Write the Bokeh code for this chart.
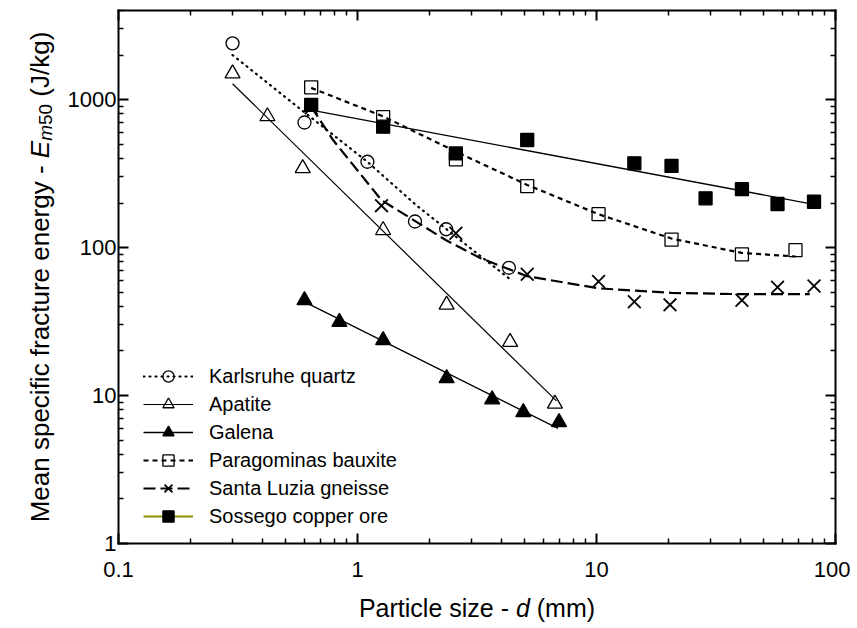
import math
from bokeh.plotting import figure
from bokeh.models import (Range1d, FixedTicker, CustomJSTickFormatter, LogAxis,
                          Legend, LegendItem, Label)
from bokeh.embed import file_html
from bokeh.resources import INLINE

FONT = "Liberation Sans"

# ---------------- data ----------------
kq_x = [0.3, 0.6, 1.1, 1.74, 2.35, 4.3]
kq_y = [2400, 700, 380, 150, 133, 73]
kq_fit_x = [0.3, 0.6, 1.1, 1.75, 2.4, 3.2, 4.3]
kq_fit_y = [2000, 820, 380, 195, 130, 90, 62]

ap_x = [0.3, 0.42, 0.59, 1.28, 2.36, 4.35, 6.7]
ap_y = [1500, 770, 343, 131, 41, 23, 8.8]
ap_fit_x = [0.3, 6.8]
ap_fit_y = [1280, 9.2]

ga_x = [0.6, 0.84, 1.28, 2.36, 3.66, 4.94, 6.97]
ga_y = [44, 31.4, 23.6, 13.1, 9.4, 7.7, 6.6]
ga_fit_x = [0.6, 6.9]
ga_fit_y = [43, 6.0]

pb_x = [0.64, 1.28, 2.58, 5.13, 10.2, 20.6, 40.6, 68]
pb_y = [1210, 760, 395, 260, 168, 113, 90, 96]
pb_fit_x = [0.64, 1.28, 2.58, 5.13, 10.2, 20.6, 40.6, 68]
pb_fit_y = [1200, 770, 445, 265, 168, 115, 92, 87]

sl_x = [0.64, 1.26, 2.58, 5.13, 10.2, 14.4, 20.3, 40.6, 57.2, 81.3]
sl_y = [880, 192, 125, 66, 59, 43, 41, 44, 54, 55]
sl_fit_x = [0.64, 0.79, 1.26, 2.35, 3.26, 5.13, 10.2, 20.6, 40.6, 78]
sl_fit_y = [896, 533, 209, 112, 85, 64, 53, 49.4, 48.4, 48.4]

ss_x = [0.64, 1.28, 2.58, 5.13, 14.4, 20.6, 28.6, 40.6, 57.2, 81.3]
ss_y = [920, 656, 433, 533, 371, 356, 215, 248, 197, 204]
ss_fit_x = [0.64, 81]
ss_fit_y = [850, 196]

series_names = ["Karlsruhe quartz", "Apatite", "Galena", "Paragominas bauxite",
                "Santa Luzia gneisse", "Sossego copper ore"]

x_major = [0.1, 1, 10, 100]
y_major = [1, 10, 100, 1000]
X_LO, X_HI = 0.1, 100
Y_LO, Y_HI = 1, 4000

# ---------------- layout (pixels) ----------------
W, H = 850, 625
BOX_L, BOX_R, BOX_T, BOX_B = 118, 835, 10, 543   # axes box inside the canvas

# The frame covers the whole canvas; the visible axes are placed at fixed
# locations so that text outside the axes box is not clipped.
lx0, lx1 = math.log10(X_LO), math.log10(X_HI)
span_x = (lx1 - lx0) / ((BOX_R - BOX_L) / W)
la = lx0 - (BOX_L / W) * span_x
ly0, ly1 = math.log10(Y_LO), math.log10(Y_HI)
span_y = (ly1 - ly0) / ((BOX_B - BOX_T) / H)
lt = ly1 + (BOX_T / H) * span_y

p = figure(width=W, height=H, x_axis_type="log", y_axis_type="log",
           x_range=Range1d(10 ** la, 10 ** (la + span_x)),
           y_range=Range1d(10 ** (lt - span_y), 10 ** lt),
           output_backend="svg", toolbar_location=None,
           min_border=0, min_border_left=0, min_border_right=0,
           min_border_top=0, min_border_bottom=0)
p.grid.visible = False
p.outline_line_color = None
p.background_fill_color = "white"
p.border_fill_color = "white"

x_minor = [m * d for d in (0.1, 1, 10) for m in range(2, 10)]
y_minor = [m * d for d in (1, 10, 100) for m in range(2, 10)] + [2000, 3000, 4000]
xt = FixedTicker(ticks=x_major, minor_ticks=x_minor)
yt = FixedTicker(ticks=y_major, minor_ticks=y_minor)
fmt = CustomJSTickFormatter(code="return String(tick)")
blank = CustomJSTickFormatter(code="return ''")

TICK_FS = "22px"


def style_axis(ax, standoff):
    ax.axis_line_width = 2
    ax.axis_line_color = "black"
    ax.axis_line_cap = "square"
    ax.major_tick_in = 10
    ax.major_tick_out = 0
    ax.minor_tick_in = 5
    ax.minor_tick_out = 0
    ax.major_tick_line_width = 2
    ax.minor_tick_line_width = 1.5
    ax.major_tick_line_color = "black"
    ax.minor_tick_line_color = "black"
    ax.major_label_standoff = standoff
    ax.major_label_text_font = FONT
    ax.major_label_text_color = "black"
    ax.major_label_text_font_size = TICK_FS


xa = p.xaxis[0]
ya = p.yaxis[0]
xa.ticker = xt
ya.ticker = yt
xa.formatter = fmt
ya.formatter = fmt
style_axis(xa, 18)
style_axis(ya, 2)
xa.fixed_location = Y_LO
xa.bounds = (X_LO, X_HI)
ya.fixed_location = X_LO
ya.bounds = (Y_LO, Y_HI)

top = LogAxis(ticker=xt, formatter=blank, fixed_location=Y_HI, bounds=(X_LO, X_HI))
style_axis(top, 0)
p.add_layout(top, "above")
right = LogAxis(ticker=yt, formatter=blank, fixed_location=X_HI, bounds=(Y_LO, Y_HI))
style_axis(right, 0)
p.add_layout(right, "right")

# ---------------- series ----------------
LW_MK = 1.3
kq_line = p.line(kq_fit_x, kq_fit_y, line_color="black", line_width=2.2,
                 line_dash="1 5", line_cap="round")
kq_pts = p.scatter(kq_x, kq_y, marker="circle", size=13, fill_color=None,
                   line_color="black", line_width=LW_MK)

ap_line = p.line(ap_fit_x, ap_fit_y, line_color="black", line_width=1.2)
ap_pts = p.scatter(ap_x, ap_y, marker="triangle", size=15, fill_color=None,
                   line_color="black", line_width=LW_MK)

ga_line = p.line(ga_fit_x, ga_fit_y, line_color="black", line_width=1.3)
ga_pts = p.scatter(ga_x, ga_y, marker="triangle", size=15, fill_color="black",
                   line_color="black", line_width=LW_MK)

pb_line = p.line(pb_fit_x, pb_fit_y, line_color="black", line_width=2.2,
                 line_dash="5 4")
pb_pts = p.scatter(pb_x, pb_y, marker="square", size=13, fill_color=None,
                   line_color="black", line_width=LW_MK)

sl_line = p.line(sl_fit_x, sl_fit_y, line_color="black", line_width=2.2,
                 line_dash="12 5")
sl_pts = p.scatter(sl_x, sl_y, marker="x", size=18, line_color="black",
                   line_width=1.8)

ss_line = p.line(ss_fit_x, ss_fit_y, line_color="black", line_width=1.3)
ss_pts = p.scatter(ss_x, ss_y, marker="square", size=13, fill_color="black",
                   line_color="black", line_width=LW_MK)
ss_leg_line = p.line(ss_fit_x, ss_fit_y, line_color="#8f8f00", line_width=2)
ss_leg_line.visible = False

ROW = 28
legend = Legend(items=[
    LegendItem(label=series_names[0], renderers=[kq_line, kq_pts]),
    LegendItem(label=series_names[1], renderers=[ap_line, ap_pts]),
    LegendItem(label=series_names[2], renderers=[ga_line, ga_pts]),
    LegendItem(label=series_names[3], renderers=[pb_line, pb_pts]),
    LegendItem(label=series_names[4], renderers=[sl_line, sl_pts]),
    LegendItem(label=series_names[5], renderers=[ss_leg_line, ss_pts]),
], location=(143, H - (516 + ROW // 2)))
legend.glyph_width = 50
legend.glyph_height = ROW
legend.label_height = 20
legend.spacing = 0
legend.label_standoff = 16
legend.padding = 0
legend.margin = 0
legend.border_line_color = None
legend.background_fill_alpha = 0
legend.label_text_font = FONT
legend.label_text_font_size = "20px"
legend.label_text_color = "black"
p.add_layout(legend, "center")

# ---------------- axis titles (pieces for italics / subscript) ----------------


def put(text, xf, yf, size, style="normal", angle=0.0):
    # xf, yf: canvas pixels from the top-left corner (the frame is the whole canvas)
    lab = Label(x=xf, y=H - yf, x_units="screen", y_units="screen",
                text=text, angle=angle, text_font=FONT,
                text_font_size=f"{size}px", text_font_style=style,
                text_color="black", text_align="left", text_baseline="middle")
    p.add_layout(lab)


def w(s, size):
    widths = {'P': 667, 'a': 556, 'r': 333, 't': 278, 'i': 222, 'c': 500, 'l': 222,
              'e': 556, ' ': 278, 's': 500, 'z': 500, '-': 333, 'd': 556, '(': 333,
              'm': 833, ')': 333, 'M': 833, 'n': 556, 'p': 556, 'f': 278, 'u': 556,
              'g': 556, 'y': 500, 'E': 667, '5': 556, '0': 556, 'J': 500, '/': 278,
              'k': 500}
    return sum(widths.get(ch, 556) for ch in s) * size / 1000.0


# x title: (text, size, style); spaces are gaps
FX = 25
x_parts = [("Particle size -", FX, "normal"), (" ", FX, None),
           ("d", FX, "italic"), (" ", FX, None), ("(mm)", FX, "normal")]
total = sum(w(s, sz) for s, sz, _ in x_parts)
x0 = (BOX_L + BOX_R) / 2 - total / 2
for s, sz, st in x_parts:
    if st is not None:
        put(s, x0, 607, sz, st)
    x0 += w(s, sz)

# y title (rotated, reading bottom to top)
FY = 26
SUB = round(FY * 0.72)
y_parts = [("Mean specific fracture energy -", FY, "normal", 0),
           (" ", FY, None, 0),
           ("E", FY, "italic", 0),
           ("m", SUB, "italic", 6),
           ("50", SUB, "normal", 6),
           (" ", FY, None, 0),
           ("(J/kg)", FY, "normal", 0)]
total = sum(w(s, sz) for s, sz, _, _ in y_parts)
y0 = (BOX_T + BOX_B) / 2 + total / 2
for s, sz, st, off in y_parts:
    if st is not None:
        put(s, 39 + off, y0, sz, st, angle=math.pi / 2)
    y0 -= w(s, sz)

open("out.html", "w").write(file_html(p, INLINE))
